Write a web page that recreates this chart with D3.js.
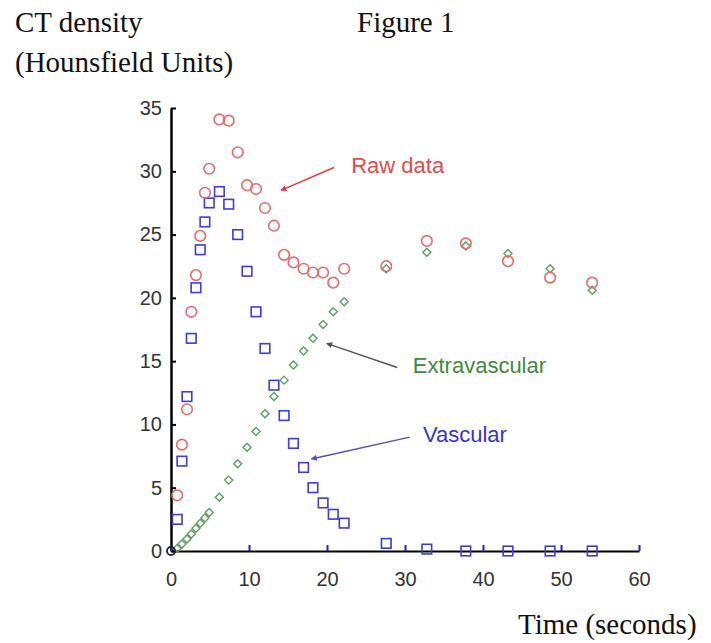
<!DOCTYPE html>
<html>
<head>
<meta charset="utf-8">
<script src="https://d3js.org/d3.v7.min.js"></script>
<style>
    body { margin: 0; background: white; }
    svg { display: block; }
</style>
</head>
<body>
<div id="chartdiv"></div>
<script>
/*global d3 */

////////////////////////////////////////
// data
////////////////////////////////////////

var times = [0.8, 1.4, 2.05, 2.6, 3.2, 3.75, 4.35, 4.9, 6.2, 7.4,
             8.55, 9.75, 10.9, 12.05, 13.2, 14.5, 15.7, 17.0, 18.2, 19.5,
             20.8, 22.2, 27.6, 32.8, 37.8, 43.2, 48.6, 54.0];

var rawData = [4.4, 8.4, 11.2, 18.9, 21.8, 24.9, 28.3, 30.2, 34.1, 34.0,
               31.5, 28.9, 28.6, 27.1, 25.7, 23.4, 22.8, 22.3, 22.0, 22.0,
               21.2, 22.3, 22.5, 24.5, 24.3, 22.9, 21.6, 21.2];

var vascular = [2.5, 7.1, 12.2, 16.8, 20.8, 23.8, 26.0, 27.5, 28.4, 27.4,
                25.0, 22.1, 18.9, 16.0, 13.1, 10.7, 8.5, 6.6, 5.0, 3.8,
                2.9, 2.2, 0.6, 0.15, 0, 0, 0, 0];

var extravascular = [0.2, 0.55, 0.95, 1.35, 1.8, 2.2, 2.6, 3.05, 4.25, 5.6,
                     6.9, 8.2, 9.45, 10.85, 12.2, 13.5, 14.7, 15.8, 16.8, 17.9,
                     18.9, 19.7, 22.3, 23.6, 24.1, 23.5, 22.3, 20.6];

var xTicks = [0, 10, 20, 30, 40, 50, 60];
var yTicks = [0, 5, 10, 15, 20, 25, 30, 35];

////////////////////////////////////////
// layout
////////////////////////////////////////

var ds = {w: 711, h: 643,
          left: 171, right: 639, top: 108, bottom: 551,
          sans: "'Liberation Sans', Arial, sans-serif",
          serif: "'Liberation Serif', 'Times New Roman', serif",
          red: "#e8494b", blue: "#3434d8", green: "#3f8a3f"};

var svg = d3.select("#chartdiv").append("svg")
    .attr("width", ds.w).attr("height", ds.h);

svg.append("rect")
    .attr("width", ds.w).attr("height", ds.h)
    .attr("fill", "white");

var x = d3.scaleLinear().domain([0, 60]).range([ds.left, ds.right]);
var y = d3.scaleLinear().domain([0, 35]).range([ds.bottom, ds.top]);

function pts (vals) {
    return vals.map(function (v, i) {
        return {t: times[i], v: v}; });
}

////////////////////////////////////////
// titles
////////////////////////////////////////

function addText (txt, px, py, size, font, fill) {
    return svg.append("text")
        .attr("x", px).attr("y", py)
        .attr("font-family", font).attr("font-size", size)
        .attr("fill", fill || "#111")
        .text(txt);
}

addText("CT density", 15, 32, 29, ds.serif);
addText("(Hounsfield Units)", 15, 72, 29, ds.serif);
addText("Figure 1", 357, 32, 29, ds.serif);
addText("Time (seconds)", 518, 634, 29, ds.serif);

////////////////////////////////////////
// axes
////////////////////////////////////////

var yAxis = svg.append("g")
    .attr("transform", "translate(" + ds.left + ",0)")
    .call(d3.axisLeft(y).tickValues(yTicks)
          .tickSizeInner(-5).tickSizeOuter(0).tickPadding(9));
yAxis.select(".domain").attr("stroke", "#000").attr("stroke-width", 2.5);
yAxis.selectAll(".tick line").attr("stroke", "#000").attr("stroke-width", 2);
yAxis.selectAll(".tick text")
    .attr("font-family", ds.sans).attr("font-size", 20).attr("fill", "#333");

var xAxis = svg.append("g")
    .attr("transform", "translate(0," + ds.bottom + ")")
    .call(d3.axisBottom(x).tickValues(xTicks)
          .tickSizeInner(-6).tickSizeOuter(0).tickPadding(21));
xAxis.select(".domain").attr("stroke", "#000").attr("stroke-width", 2.2);
xAxis.selectAll(".tick line").attr("stroke", "#2020c8").attr("stroke-width", 2);
xAxis.selectAll(".tick text")
    .attr("font-family", ds.sans).attr("font-size", 20).attr("fill", "#333");

////////////////////////////////////////
// series
////////////////////////////////////////

svg.append("g").selectAll("path")
    .data(pts(extravascular)).enter().append("path")
    .attr("d", function (d) {
        var cx = x(d.t), cy = y(d.v), r = 4;
        return "M" + cx + "," + (cy - r) + "L" + (cx + r) + "," + cy +
               "L" + cx + "," + (cy + r) + "L" + (cx - r) + "," + cy + "Z"; })
    .attr("fill", "none").attr("stroke", "#5c9e60").attr("stroke-width", 1.4);

svg.append("g").selectAll("rect")
    .data(pts(vascular)).enter().append("rect")
    .attr("x", function (d) { return x(d.t) - 4.8; })
    .attr("y", function (d) { return y(d.v) - 4.8; })
    .attr("width", 9.6).attr("height", 9.6)
    .attr("fill", "none").attr("stroke", "#3c3ce0").attr("stroke-width", 1.6);

svg.append("g").selectAll("circle")
    .data(pts(rawData)).enter().append("circle")
    .attr("cx", function (d) { return x(d.t); })
    .attr("cy", function (d) { return y(d.v); })
    .attr("r", 5.3)
    .attr("fill", "none").attr("stroke", "#ea6a6a").attr("stroke-width", 1.6);

//shared starting point at the origin
svg.append("circle")
    .attr("cx", x(0)).attr("cy", y(0)).attr("r", 4)
    .attr("fill", "none").attr("stroke", "#223").attr("stroke-width", 1.8);

////////////////////////////////////////
// annotations
////////////////////////////////////////

var notes = [
    {text: "Raw data", color: ds.red, arrow: "#e83838",
     at: [23.1, 29.9], from: [20.9, 30.3], to: [14.1, 28.5]},
    {text: "Extravascular", color: ds.green, arrow: "#555",
     at: [31.0, 14.1], from: [29.0, 14.5], to: [19.96, 16.4]},
    {text: "Vascular", color: ds.blue, arrow: "#5050c0",
     at: [32.3, 8.6], from: [30.6, 9.0], to: [18.0, 7.27]}];

var defs = svg.append("defs");

notes.forEach(function (n, i) {
    defs.append("marker")
        .attr("id", "head" + i)
        .attr("viewBox", "0 0 10 10")
        .attr("refX", 9).attr("refY", 5)
        .attr("markerWidth", 8).attr("markerHeight", 6)
        .attr("markerUnits", "userSpaceOnUse")
        .attr("orient", "auto")
        .append("path").attr("d", "M0,0L10,5L0,10Z")
        .attr("fill", n.arrow);
    svg.append("line")
        .attr("x1", x(n.from[0])).attr("y1", y(n.from[1]))
        .attr("x2", x(n.to[0])).attr("y2", y(n.to[1]))
        .attr("stroke", n.arrow).attr("stroke-width", 1.4)
        .attr("marker-end", "url(#head" + i + ")");
    addText(n.text, x(n.at[0]), y(n.at[1]), 22, ds.sans, n.color);
});
</script>
</body>
</html>
